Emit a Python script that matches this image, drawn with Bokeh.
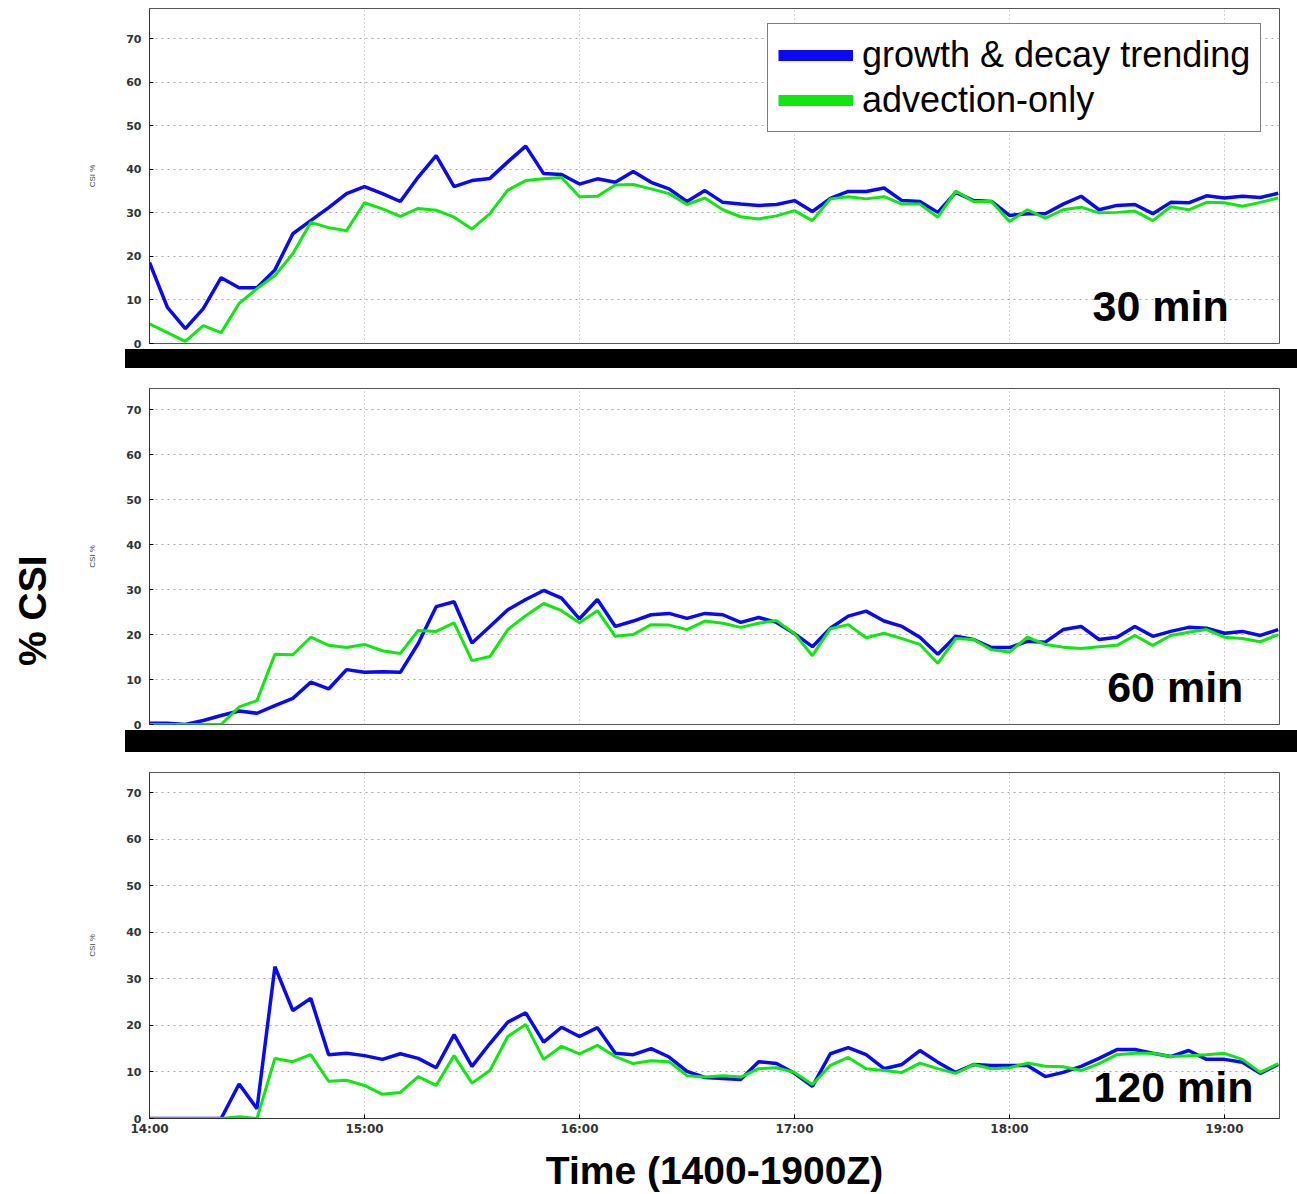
from bokeh.plotting import figure
from bokeh.layouts import column
from bokeh.models import Legend, LegendItem, Label, FixedTicker, Range1d, LinearAxis, Div
from bokeh.embed import file_html
from bokeh.resources import INLINE

# sample times (minutes after 14:00, 5-minute steps up to 19:15)
minutes = list(range(0, 320, 5))
hour_ticks = [0, 1, 2, 3, 4, 5]
hour_labels = ["14:00", "15:00", "16:00", "17:00", "18:00", "19:00"]
csi_ticks = [0, 10, 20, 30, 40, 50, 60, 70]

series_names = ["growth & decay trending", "advection-only"]
panel_names = ["30 min", "60 min", "120 min"]

growth_30 = [18.6, 8.3, 3.4, 8.0, 15.1, 12.8, 12.8, 16.9, 25.2, 28.2, 31.2, 34.4, 36.0, 34.4, 32.6, 38.2,
             43.1, 36.0, 37.4, 37.9, 41.7, 45.3, 39.0, 38.8, 36.6, 37.8, 37.0, 39.5, 37.0, 35.5, 32.6, 35.1,
             32.4, 32.0, 31.7, 31.9, 32.8, 30.3, 33.3, 34.9, 34.9, 35.7, 32.8, 32.6, 30.1, 34.7, 32.8, 32.6,
             29.4, 29.8, 29.8, 32.0, 33.8, 30.7, 31.7, 31.9, 29.8, 32.4, 32.3, 33.9, 33.4, 33.8, 33.5, 34.5]
advect_30 = [4.5, 2.5, 0.5, 4.1, 2.5, 9.2, 12.6, 15.6, 20.6, 27.8, 26.6, 25.9, 32.3, 30.9, 29.2, 31.0,
             30.6, 29.0, 26.3, 29.8, 35.2, 37.4, 37.8, 38.1, 33.7, 33.8, 36.4, 36.5, 35.5, 34.4, 31.9, 33.4,
             30.7, 29.1, 28.6, 29.3, 30.5, 28.2, 33.2, 33.7, 33.2, 33.7, 32.0, 32.0, 29.0, 35.0, 32.6, 32.6,
             28.0, 30.7, 28.8, 30.7, 31.3, 30.0, 30.1, 30.4, 28.2, 31.4, 30.7, 32.4, 32.3, 31.5, 32.4, 33.4]

growth_60 = [0.3, 0.3, 0.0, 0.9, 2.0, 3.0, 2.5, 4.2, 5.8, 9.4, 7.9, 12.2, 11.6, 11.7, 11.6, 18.0,
             26.2, 27.3, 18.1, 21.8, 25.5, 27.8, 29.8, 28.1, 23.5, 27.8, 21.8, 23.0, 24.4, 24.7, 23.6, 24.7,
             24.4, 22.7, 23.8, 22.7, 20.2, 17.3, 21.4, 24.1, 25.2, 23.0, 21.8, 19.4, 15.6, 19.6, 18.9, 17.1,
             17.1, 18.5, 18.3, 21.1, 21.8, 18.9, 19.4, 21.8, 19.6, 20.7, 21.6, 21.4, 20.3, 20.7, 19.8, 21.1]
advect_60 = [0.0, 0.0, 0.0, 0.0, 0.0, 3.9, 5.3, 15.6, 15.5, 19.4, 17.6, 17.1, 17.8, 16.4, 15.8, 20.9,
             20.7, 22.6, 14.2, 15.1, 21.1, 24.2, 26.9, 25.3, 22.6, 25.3, 19.6, 20.0, 22.2, 22.1, 21.1, 23.0,
             22.5, 21.6, 22.5, 23.1, 20.2, 15.3, 21.3, 22.2, 19.3, 20.3, 19.1, 17.8, 13.6, 19.1, 18.9, 16.6,
             16.1, 19.4, 17.8, 17.2, 16.9, 17.3, 17.6, 19.8, 17.6, 19.8, 20.5, 21.1, 19.4, 19.1, 18.4, 20.0]

growth_120 = [0.0, 0.0, 0.0, 0.0, 0.0, 7.4, 2.1, 32.6, 23.2, 25.8, 13.7, 14.0, 13.5, 12.7, 13.9, 12.9,
              10.9, 18.0, 11.2, 16.1, 20.7, 22.7, 16.4, 19.6, 17.6, 19.5, 14.0, 13.7, 15.0, 13.2, 10.1, 8.8,
              8.6, 8.4, 12.2, 11.8, 9.7, 6.9, 13.9, 15.2, 13.7, 10.7, 11.6, 14.6, 12.1, 9.9, 11.6, 11.4,
              11.4, 11.4, 9.0, 9.9, 11.2, 12.9, 14.8, 14.8, 14.0, 13.3, 14.6, 12.7, 12.7, 12.1, 9.7, 11.6]
advect_120 = [0.0, 0.0, 0.0, 0.0, 0.0, 0.4, 0.0, 12.9, 12.2, 13.7, 8.0, 8.2, 7.1, 5.2, 5.6, 9.0,
              7.1, 13.5, 7.6, 10.3, 17.6, 20.2, 12.7, 15.5, 13.9, 15.7, 13.3, 11.8, 12.4, 12.2, 9.2, 8.9,
              9.2, 8.9, 10.7, 10.9, 9.9, 7.3, 11.4, 13.1, 10.7, 10.3, 9.9, 11.9, 10.7, 9.7, 11.6, 10.7,
              10.9, 11.9, 11.2, 11.1, 10.3, 11.8, 13.7, 14.0, 14.0, 13.3, 13.5, 13.7, 14.0, 12.7, 9.9, 11.8]

BLUE = "#0a0af2"
GREEN = "#10e610"
FONT = "Liberation Sans"
hours = [m / 60.0 for m in minutes]


def make_panel(height, top, bottom, ymax, blue, green, name, lx, ly, show_x):
    p = figure(width=1297, height=height,
               x_range=Range1d(0, 5.256), y_range=Range1d(0, ymax),
               min_border_left=149, min_border_right=18,
               min_border_top=top, min_border_bottom=bottom,
               toolbar_location=None, output_backend="svg",
               background_fill_color="white", border_fill_color="white")
    p.outline_line_color = "#555555"
    p.outline_line_width = 1

    p.yaxis.ticker = FixedTicker(ticks=csi_ticks)
    p.yaxis.major_label_text_font_size = "11px"
    p.yaxis.major_label_text_font_style = "bold"
    p.yaxis.major_label_text_color = "#333333"
    p.yaxis.major_label_text_font = "DejaVu Sans"
    p.yaxis.major_label_standoff = 8
    p.yaxis.major_tick_in = 4
    p.yaxis.major_tick_out = 0
    p.yaxis.minor_tick_line_color = None
    p.yaxis.axis_line_color = "#333333"
    p.yaxis.axis_label = "CSI %"
    p.yaxis.axis_label_text_font_size = "8px"
    p.yaxis.axis_label_text_font_style = "normal"
    p.yaxis.axis_label_text_color = "#444444"
    p.yaxis.axis_label_standoff = 26

    p.xgrid.ticker = FixedTicker(ticks=hour_ticks)
    p.xgrid.grid_line_color = "#a8a8a8"
    p.xgrid.grid_line_dash = "1 3"
    p.ygrid.grid_line_color = "#a8a8a8"
    p.ygrid.grid_line_dash = "2 4"

    if show_x:
        p.xaxis.ticker = FixedTicker(ticks=hour_ticks)
        p.xaxis.major_label_overrides = {t: l for t, l in zip(hour_ticks, hour_labels)}
        p.xaxis.major_label_text_font_size = "12px"
        p.xaxis.major_label_text_font_style = "bold"
        p.xaxis.major_label_text_color = "#333333"
        p.xaxis.major_label_text_font = "DejaVu Sans"
        p.xaxis.major_label_standoff = 3
        p.xaxis.major_tick_in = 4
        p.xaxis.major_tick_out = 0
        p.xaxis.minor_tick_line_color = None
        p.xaxis.axis_line_color = "#333333"
        p.xaxis.axis_label = "Time (1400-1900Z)"
        p.xaxis.axis_label_text_font = FONT
        p.xaxis.axis_label_text_font_size = "39px"
        p.xaxis.axis_label_text_font_style = "bold"
        p.xaxis.axis_label_text_color = "black"
        p.xaxis.axis_label_standoff = 10
    else:
        p.xaxis.visible = False

    p.line(hours, blue, line_color=BLUE, line_width=3.5)
    p.line(hours, green, line_color=GREEN, line_width=3)

    p.add_layout(Label(x=lx, y=ly, text=name, text_align="right",
                       text_baseline="alphabetic", text_font=FONT,
                       text_font_size="43px", text_font_style="bold",
                       text_color="black"))
    return p


def make_bar(height):
    return Div(text="", width=1297 - 125, height=height, margin=(0, 0, 0, 125),
               styles={"background-color": "black"})


p1 = make_panel(349, 8, 6, 76.9, growth_30, advect_30, panel_names[0], 5.02, 8.6, False)
p2 = make_panel(362, 20, 6, 74.7, growth_60, advect_60, panel_names[1], 5.088, 8.3, False)
p3 = make_panel(442, 20, 76, 74.3, growth_120, advect_120, panel_names[2], 5.135, 6.7, True)

# legend with thick sample lines (dummy renderers kept outside the visible range)
d1 = p1.line([-5, -4], [-5, -5], line_color=BLUE, line_width=11)
d2 = p1.line([-5, -4], [-5, -5], line_color=GREEN, line_width=11)
legend = Legend(items=[LegendItem(label=series_names[0], renderers=[d1]),
                       LegendItem(label=series_names[1], renderers=[d2])],
                location=(618, 211))
legend.label_text_font = FONT
legend.label_text_font_size = "36px"
legend.label_text_color = "black"
legend.glyph_width = 75
legend.glyph_height = 30
legend.label_standoff = 9
legend.padding = 10
legend.spacing = 3
legend.margin = 0
legend.border_line_color = "black"
legend.border_line_width = 1.5
legend.background_fill_alpha = 1.0
p1.add_layout(legend)

# big shared y label, as an outer axis of the middle panel
# (non-breaking spaces push the visible text below the panel's centre, as in the original)
outer = LinearAxis(ticker=FixedTicker(ticks=[]), axis_label="% CSI" + "\u00a0" * 10,
                   axis_line_color=None, major_tick_line_color=None,
                   minor_tick_line_color=None, major_tick_in=0, major_tick_out=0,
                   axis_label_standoff=32, axis_label_text_font=FONT,
                   axis_label_text_font_size="39px", axis_label_text_font_style="bold",
                   axis_label_text_color="black")
p2.add_layout(outer, "left")

layout = column(p1, make_bar(19), p2, make_bar(22), p3, spacing=0)

open("out.html", "w").write(file_html(layout, INLINE))
